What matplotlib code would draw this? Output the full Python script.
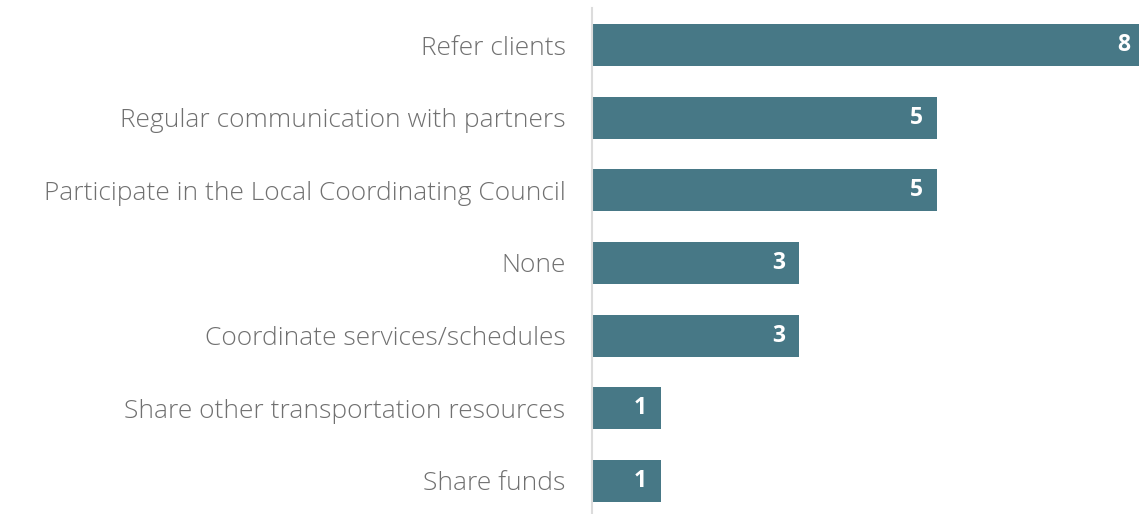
import matplotlib.pyplot as plt
from matplotlib.transforms import offset_copy

categories = [
    "Refer clients",
    "Regular communication with partners",
    "Participate in the Local Coordinating Council",
    "None",
    "Coordinate services/schedules",
    "Share other transportation resources",
    "Share funds",
]
values = [8, 5, 5, 3, 3, 1, 1]

bar_color = "#477886"
label_color = "#707070"

fig = plt.figure(figsize=(11.39, 5.14), dpi=100)
# axes left edge at x=592px, top at 8px, bottom at 514px
ax = fig.add_axes([592 / 1139, 0, 1 - 592 / 1139, 506 / 514])

ypos = list(range(len(categories)))
ax.barh(ypos, values, height=0.58, color=bar_color)

ax.set_xlim(0, 547 / 69)
ax.set_ylim(6.455, -0.51)

ax.set_yticks(ypos)
ax.set_yticklabels(categories, fontsize=19, color=label_color,
                   family=["Open Sans", "DejaVu Sans"], fontweight="light")
ax.tick_params(axis="y", length=0, pad=19)
ax.set_xticks([])

for s in ["top", "right", "bottom"]:
    ax.spines[s].set_visible(False)
ax.spines["left"].set_color("#dcdcdc")
ax.spines["left"].set_linewidth(1.5)

trans = offset_copy(ax.transData, fig=fig, x=-14, y=0, units="dots")
for y, v in zip(ypos, values):
    ax.text(v, y, str(v), transform=trans, ha="right", va="center",
            color="white", fontsize=16.5, fontweight="bold",
            family=["Open Sans", "DejaVu Sans"], clip_on=False)

fig.savefig("out.png", dpi=100)
